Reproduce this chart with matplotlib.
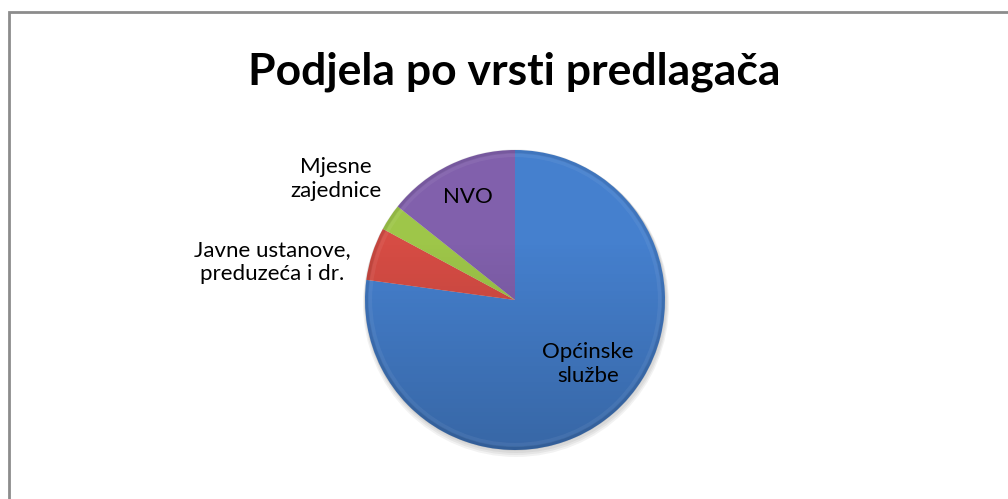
import numpy as np
import matplotlib.pyplot as plt
import matplotlib.patches as mpatches

# data
categories = ["Općinske\nslužbe", "Javne ustanove,\npreduzeća i dr.", "Mjesne\nzajednice", "NVO"]
values = [54, 4, 2, 10]
colors = ["#4580CE", "#D64C44", "#9EC649", "#8160AC"]

plt.rcParams["font.family"] = ["Lato", "DejaVu Sans"]

W, H = 1008, 499
fig = plt.figure(figsize=(W / 100, H / 100), dpi=100)
ax = fig.add_axes([0, 0, 1, 1])

cx, cy, r = 515, H - 300, 150

# soft shadow
for i in range(3):
    ax.add_patch(mpatches.Circle((cx + 1, cy - 2 - i), r + 1 + i, color="black",
                                 alpha=0.05, linewidth=0))

wedges, _ = ax.pie(values, colors=colors, startangle=90, counterclock=False,
                   center=(cx, cy), radius=r, frame=True,
                   wedgeprops=dict(edgecolor="none"))
ax.set_xlim(0, W)
ax.set_ylim(0, H)
ax.set_aspect("equal")
ax.axis("off")

# shading overlay: darker toward the bottom
grad = np.linspace(0, 1, 256).reshape(-1, 1)
rgba = np.zeros((256, 1, 4))
rgba[..., 3] = np.clip((grad - 0.3) * 0.28, 0, None)
im = ax.imshow(rgba, extent=(cx - r, cx + r, cy - r, cy + r), origin="upper",
               aspect="auto", zorder=3)
clip = mpatches.Circle((cx, cy), r, transform=ax.transData)
im.set_clip_path(clip)

# subtle bevel rim
ax.add_patch(mpatches.Circle((cx, cy), r - 1.5, fill=False, edgecolor="black",
                             alpha=0.08, linewidth=3, zorder=4))
ax.add_patch(mpatches.Circle((cx, cy), r - 5, fill=False, edgecolor="white",
                             alpha=0.06, linewidth=3, zorder=4))

# chart frame
ax.add_patch(mpatches.Rectangle((8.5, -5), W + 10, H - 11.5 + 5, fill=False,
                                edgecolor="#8C8C8C", linewidth=2, zorder=5))

ax.text(514, H - 72, "Podjela po vrsti predlagača", ha="center", va="center",
        fontsize=32, fontweight="bold")

lab_pos = [(588, 364), (272, 262), (336, 179), (468, 197)]
for lab, (x, y) in zip(categories, lab_pos):
    ax.text(x, H - y, lab, ha="center", va="center", fontsize=16,
            linespacing=1.3, color="black", zorder=6)

fig.savefig("out.png", dpi=100)
